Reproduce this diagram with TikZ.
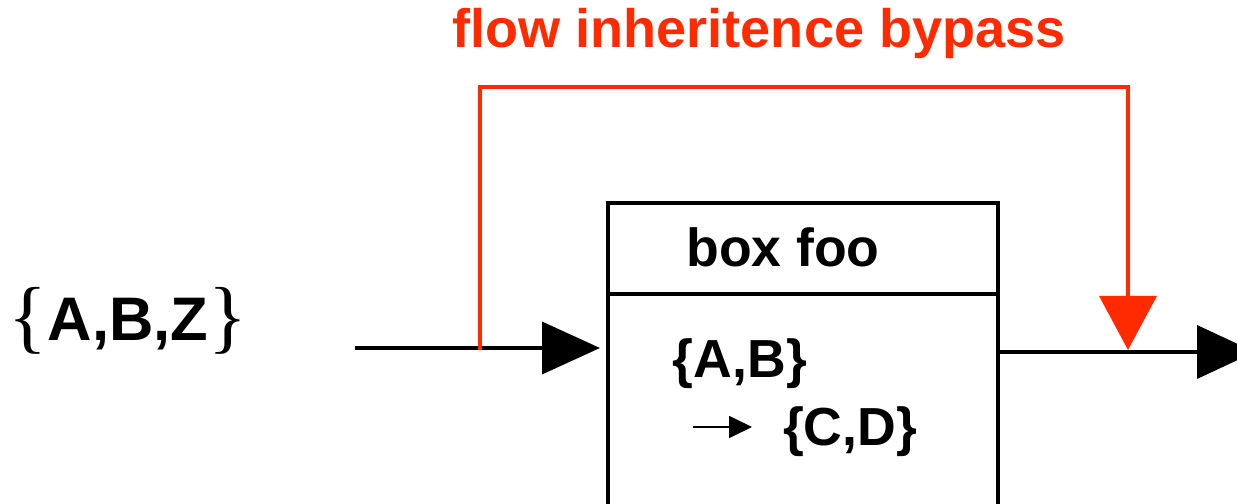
\documentclass[tikz,border=0pt]{standalone}
\usepackage{fontspec}
\setmainfont{Liberation Sans}
\newfontfamily\bracefont{Liberation Serif}
\usetikzlibrary{arrows.meta,positioning}
\definecolor{bpred}{RGB}{255,42,0}
\definecolor{flowblack}{RGB}{0,0,0}

\begin{document}
\begin{tikzpicture}[
  line width=2.1pt,
  txt/.style={font=\fontsize{30.5}{36}\selectfont\bfseries, inner sep=0pt},
  frame/.style={draw=flowblack, minimum width=7.8cm, outer sep=0pt, inner sep=0pt}
]
\useasboundingbox (0,0) rectangle (24.74,10.08);
% Box
\node[frame, minimum height=1.82cm, anchor=north west] (hdr) at (12.16,6.02) {};
\node[frame, minimum height=5cm, below=0pt of hdr] (body) {};
\node[txt] (hdrlabel) at (15.66,5.14) {box foo};
\node[txt] (ab) at (14.8,2.8) {\{A,B\}};
\node[txt] (cd) at (17.0,1.45) {\{C,D\}};
\coordinate (mapfrom) at (13.86,1.54);
\coordinate (mapto) at (15.04,1.54);
\draw[line width=1pt, -{Triangle[length=4.6mm, width=4.4mm]}] (mapfrom) -- (mapto);
% Input set
\node[txt, font=\fontsize{35}{40}\selectfont\bfseries] (abz) at (2.56,3.66)
  {{\bracefont\mdseries\fontsize{46}{50}\selectfont\raisebox{-0.6mm}{\{}}A,B,Z{\bracefont\mdseries\fontsize{46}{50}\selectfont\raisebox{-0.6mm}{\}}}};
% Flow in and out
\coordinate (src) at (7.1,3.12);
\coordinate (sink) at (25.1,3.04);
\draw[-{Triangle[length=11.6mm, width=10.4mm]}, shorten >=1.6mm] (src) -- (body.west |- src);
\draw[-{Triangle[length=11.6mm, width=10.6mm]}] (body.east |- sink) -- (sink);
% Bypass
\coordinate (tap) at (9.6,3.08);
\coordinate (join) at (22.56,3.08);
\draw[bpred, -{Triangle[length=10.8mm, width=11.4mm]}] (tap) -- (9.6,8.34) -| (join);
\node[txt, bpred, font=\fontsize{30.8}{36}\selectfont\bfseries] (title) at (15.18,9.4) {flow inheritence bypass};
\end{tikzpicture}
\end{document}
